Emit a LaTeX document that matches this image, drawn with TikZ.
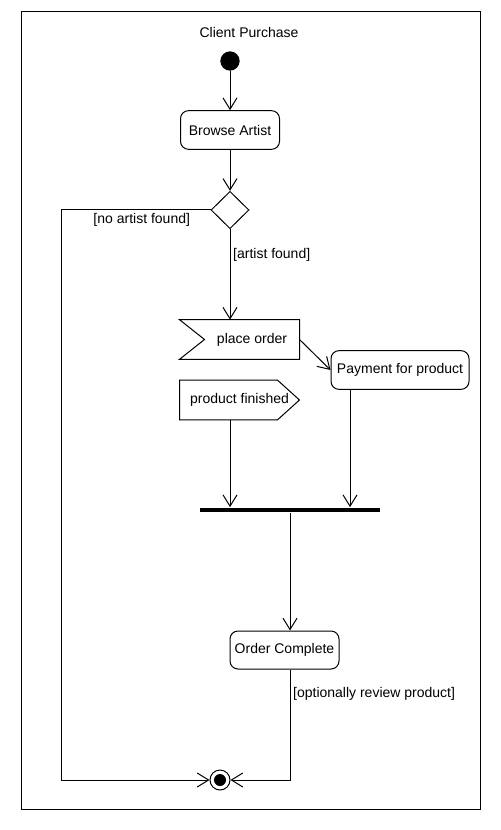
\documentclass[tikz,border=0pt]{standalone}
\usepackage{fontspec}
\setmainfont{Liberation Sans}
\usetikzlibrary{arrows.meta,shapes.geometric}
\begin{document}
\begin{tikzpicture}[x=0.75pt, y=-0.75pt, line width=0.75pt, font=\fontsize{10.5}{12.5}\selectfont,
    flow/.style={-{Straight Barb[length=8.5pt,width=10.5pt]}},
    act/.style={draw, rounded corners=6pt, minimum height=29pt, inner sep=0pt},
    signal/.style={minimum height=29pt, inner sep=0pt}]
\useasboundingbox (0,0) rectangle (500,830);
\draw (21,12) rectangle (480,809);
\node (title) at (249,33) {Client Purchase};
\node[fill, circle, minimum size=14.5pt, inner sep=0pt] (start) at (230,61) {};
\node[act, minimum width=74.25pt] (browse) at (230,130) {Browse Artist};
\node[draw, diamond, minimum width=28.5pt, minimum height=28pt, inner sep=0pt] (dec) at (230,210) {};
\node[signal, minimum width=70.5pt] (order) at (252,339.5) {place order};
\draw (order.north east) -- (order.south east) -- ([xshift=-18.75pt]order.south west) -- (order.west) -- ([xshift=-18.75pt]order.north west) -- cycle;
\node[act, minimum width=103.5pt] (pay) at (400,370) {Payment for product};
\node[signal, minimum width=89.25pt] (fin) at (239.5,400) {product finished};
\draw (fin.north west) -- ([xshift=-16.5pt]fin.north east) -- (fin.east) -- ([xshift=-16.5pt]fin.south east) -- (fin.south west) -- cycle;
\node[fill, minimum width=135pt, minimum height=3.5pt, inner sep=0pt] (bar) at (290,510) {};
\node[act, minimum width=81.75pt, minimum height=28.5pt] (done) at (284.5,650) {Order Complete};
\node[draw, circle, minimum size=15pt, inner sep=0pt] (end) at (220,780) {};
\fill (end) circle (4.5pt);
\coordinate (lft) at (61,780);
\draw[flow] (start) -- (browse);
\draw[flow] (browse) -- (dec);
\draw[flow] (dec) -- (dec |- order.north) node[pos=0.28, right, inner sep=2pt] {[artist found]};
\draw[flow] (order.east) -- (pay.west);
\draw[flow] (dec.west) -| (lft) node[pos=0.23, below, inner sep=2.5pt] {[no artist found]} -- (end);
\draw[flow] (fin.south -| dec) -- (bar.north -| dec);
\draw[flow] ([xshift=-37.5pt]pay.south) -- ([xshift=-37.5pt]pay.south |- bar.north);
\draw[flow] (bar.south) -- (bar |- done.north);
\draw[flow] (bar |- done.south) |- (end) node[pos=0.11, right, inner sep=2pt] {[optionally review product]};
\end{tikzpicture}
\end{document}
